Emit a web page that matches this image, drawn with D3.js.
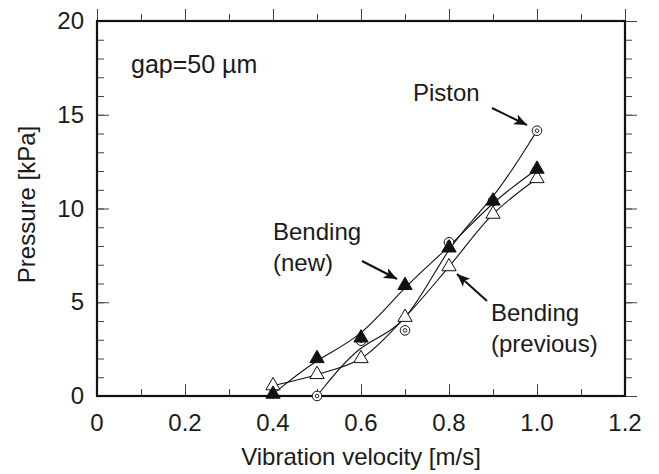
<!DOCTYPE html>
<html>
<head>
<meta charset="utf-8">
<script src="https://cdn.jsdelivr.net/npm/d3@7"></script>
<style>
  body { margin: 0; background: #fff; }
  text { font-family: "Liberation Sans", Arial, Helvetica, sans-serif; fill: #1a1a1a; }
</style>
</head>
<body>
<script>
//----------------------------------------- data -------------------------------------------

var velocity = [0.4, 0.5, 0.6, 0.7, 0.8, 0.9, 1.0];
var bendingNew = [0.1, 2.0, 3.1, 5.9, 7.9, 10.4, 12.1];
var bendingPrev = [0.55, 1.15, 2.0, 4.2, 6.9, 9.7, 11.6];

var pistonVelocity = [0.5, 0.6, 0.7, 0.8, 0.9, 1.0];
var piston = [0.0, 2.95, 3.5, 8.2, 10.4, 14.15];

var xTicks = [0, 0.2, 0.4, 0.6, 0.8, 1.0, 1.2];
var xTickLabels = ["0", "0.2", "0.4", "0.6", "0.8", "1.0", "1.2"];
var yTicks = [0, 5, 10, 15, 20];

//----------------------------------------- svg --------------------------------------------

var width = 659, height = 474;
var margin = { top: 21, right: 34, bottom: 78, left: 97 };

var svg = d3.select("body")
          .append("svg")
          .attr("width", width)
          .attr("height", height);

var x = d3.scaleLinear().domain([0, 1.2]).range([margin.left, width - margin.right]);
var y = d3.scaleLinear().domain([0, 20]).range([height - margin.bottom, margin.top]);

var defs = svg.append("defs");
defs.append("marker")
    .attr("id", "arrow")
    .attr("viewBox", "0 0 10 10")
    .attr("refX", 10).attr("refY", 5)
    .attr("markerWidth", 13).attr("markerHeight", 13)
    .attr("markerUnits", "userSpaceOnUse")
    .attr("orient", "auto")
  .append("path")
    .attr("d", "M0,0.8 L10,5 L0,9.2 L2.5,5 Z")
    .attr("fill", "#111");

//----------------------------------------- axes -------------------------------------------

var xMinor = d3.range(0, 1.21, 0.1);
var yMinor = d3.range(0, 20.5, 1);

function ticks(g) {
  g.select(".domain").remove();
  g.selectAll("line").attr("stroke", "#444");
}

// bottom / top ticks (inward)
[[d3.axisBottom, y(0), -1], [d3.axisTop, y(20), 1]].forEach(function (a) {
  svg.append("g").attr("transform", "translate(0," + a[1] + ")")
     .call(a[0](x).tickValues(xMinor).tickSize(7 * a[2]).tickSizeOuter(0).tickFormat(""))
     .call(ticks);
  svg.append("g").attr("transform", "translate(0," + a[1] + ")")
     .call(a[0](x).tickValues(xTicks).tickSize(12 * a[2]).tickSizeOuter(0).tickFormat(""))
     .call(ticks);
});

// left / right ticks (inward)
[[d3.axisLeft, x(0), -1], [d3.axisRight, x(1.2), 1]].forEach(function (a) {
  svg.append("g").attr("transform", "translate(" + a[1] + ",0)")
     .call(a[0](y).tickValues(yMinor).tickSize(7 * a[2]).tickSizeOuter(0).tickFormat(""))
     .call(ticks);
  svg.append("g").attr("transform", "translate(" + a[1] + ",0)")
     .call(a[0](y).tickValues(yTicks).tickSize(12 * a[2]).tickSizeOuter(0).tickFormat(""))
     .call(ticks);
});

// tick labels
svg.append("g").selectAll("text")
    .data(xTicks)
    .enter().append("text")
    .attr("x", function (d) { return x(d); })
    .attr("y", y(0) + 35)
    .attr("text-anchor", "middle")
    .style("font-size", "24px")
    .text(function (d, i) { return xTickLabels[i]; });

svg.append("g").selectAll("text")
    .data(yTicks)
    .enter().append("text")
    .attr("x", x(0) - 13)
    .attr("y", function (d) { return y(d) + 8; })
    .attr("text-anchor", "end")
    .style("font-size", "24px")
    .text(function (d) { return d; });

// frame
svg.append("rect")
    .attr("x", x(0)).attr("y", y(20))
    .attr("width", x(1.2) - x(0)).attr("height", y(0) - y(20))
    .attr("fill", "none").attr("stroke", "#111").attr("stroke-width", 2.2);

// axis titles
svg.append("text")
    .attr("x", (x(0) + x(1.2)) / 2)
    .attr("y", 465)
    .attr("text-anchor", "middle")
    .style("font-size", "24px")
    .text("Vibration velocity [m/s]");

svg.append("text")
    .attr("transform", "translate(35," + (y(10) - 4) + ") rotate(-90)")
    .attr("text-anchor", "middle")
    .style("font-size", "24px")
    .text("Pressure [kPa]");

//----------------------------------------- curves -----------------------------------------

function pts(vs, ps) { return vs.map(function (v, i) { return [v, ps[i]]; }); }

var line = function (curve) {
  return d3.line().x(function (d) { return x(d[0]); }).y(function (d) { return y(d[1]); }).curve(curve);
};

svg.append("path").datum(pts(pistonVelocity, piston))
    .attr("d", line(d3.curveBasis)).attr("fill", "none").attr("stroke", "#111").attr("stroke-width", 1.1);
svg.append("path").datum(pts(velocity, bendingPrev))
    .attr("d", line(d3.curveCatmullRom)).attr("fill", "none").attr("stroke", "#111").attr("stroke-width", 1.1);
svg.append("path").datum(pts(velocity, bendingNew))
    .attr("d", line(d3.curveBasis)).attr("fill", "none").attr("stroke", "#111").attr("stroke-width", 1.1);

//----------------------------------------- markers ----------------------------------------

var pistonG = svg.append("g").selectAll("g")
    .data(pts(pistonVelocity, piston))
    .enter().append("g")
    .attr("transform", function (d) { return "translate(" + x(d[0]) + "," + y(d[1]) + ")"; });
pistonG.append("circle").attr("r", 4.8).attr("fill", "#fff").attr("stroke", "#111").attr("stroke-width", 1);
pistonG.append("circle").attr("r", 1.8).attr("fill", "none").attr("stroke", "#111").attr("stroke-width", 0.9);

var tri = d3.symbol().type(d3.symbolTriangle).size(88);

svg.append("g").selectAll("path")
    .data(pts(velocity, bendingPrev))
    .enter().append("path")
    .attr("d", tri)
    .attr("transform", function (d) { return "translate(" + x(d[0]) + "," + y(d[1]) + ")"; })
    .attr("fill", "#fff").attr("stroke", "#111").attr("stroke-width", 1);

svg.append("g").selectAll("path")
    .data(pts(velocity, bendingNew))
    .enter().append("path")
    .attr("d", tri)
    .attr("transform", function (d) { return "translate(" + x(d[0]) + "," + y(d[1]) + ")"; })
    .attr("fill", "#111").attr("stroke", "#111").attr("stroke-width", 1);

//----------------------------------------- annotations ------------------------------------

svg.append("text").attr("x", 131).attr("y", 73).style("font-size", "25px").text("gap=50 µm");

svg.append("text").attr("x", 413).attr("y", 101).style("font-size", "24px").text("Piston");
svg.append("line").attr("x1", 492).attr("y1", 108).attr("x2", 527).attr("y2", 125)
    .attr("stroke", "#111").attr("stroke-width", 2).attr("marker-end", "url(#arrow)");

var bn = svg.append("text").attr("x", 273).attr("y", 240).style("font-size", "24px");
bn.append("tspan").attr("x", 273).text("Bending");
bn.append("tspan").attr("x", 273).attr("dy", 31).text("(new)");
svg.append("line").attr("x1", 362).attr("y1", 261).attr("x2", 397).attr("y2", 279)
    .attr("stroke", "#111").attr("stroke-width", 2).attr("marker-end", "url(#arrow)");

var bp = svg.append("text").attr("x", 491).attr("y", 321).style("font-size", "24px");
bp.append("tspan").attr("x", 491).text("Bending");
bp.append("tspan").attr("x", 491).attr("dy", 31).text("(previous)");
svg.append("line").attr("x1", 487).attr("y1", 301).attr("x2", 457).attr("y2", 274)
    .attr("stroke", "#111").attr("stroke-width", 2).attr("marker-end", "url(#arrow)");
</script>
</body>
</html>
